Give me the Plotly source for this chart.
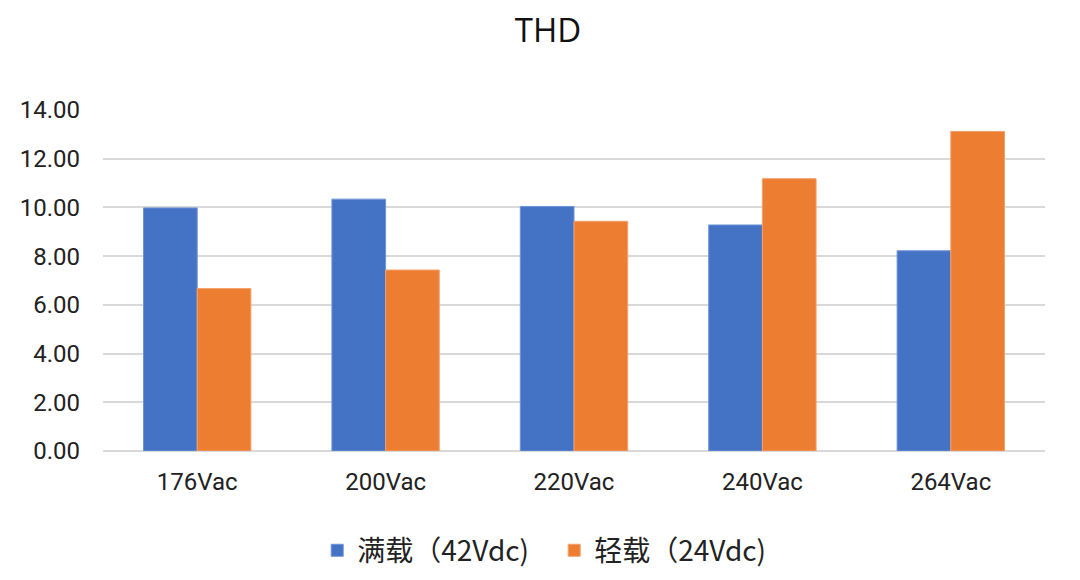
import plotly.graph_objects as go

categories = ["176Vac", "200Vac", "220Vac", "240Vac", "264Vac"]
full_load = [9.98, 10.34, 10.04, 9.28, 8.22]
light_load = [6.67, 7.43, 9.43, 11.18, 13.12]
series_names = ["满载（42Vdc)", "轻载（24Vdc)"]
y_ticks = [0, 2, 4, 6, 8, 10, 12, 14]
y_tick_text = ["0.00", "2.00", "4.00", "6.00", "8.00", "10.00", "12.00", "14.00"]

fig = go.Figure()
fig.add_trace(go.Bar(x=categories, y=full_load, name=series_names[0],
                     marker=dict(color="#4472C4", line=dict(color="#6F93D8", width=1))))
fig.add_trace(go.Bar(x=categories, y=light_load, name=series_names[1],
                     marker=dict(color="#ED7D31", line=dict(color="#F3A26E", width=1))))

fig.update_layout(
    width=1080, height=580,
    paper_bgcolor="white", plot_bgcolor="white",
    margin=dict(l=92, r=43, t=102, b=136),
    barmode="group", bargap=0.43, bargroupgap=0,
    title=dict(text="THD", x=0.5, xanchor="center", y=0.962, yanchor="middle",
               font=dict(family="Open Sans, Noto Sans CJK SC", size=33, color="#111111")),
    font=dict(family="Roboto, Noto Sans CJK SC", size=23, color="#222222"),
    xaxis=dict(showgrid=False, showline=False, ticks="", ticklabelstandoff=14,
               tickfont=dict(size=24, color="#222222")),
    yaxis=dict(range=[0, 14], tickvals=y_ticks, ticktext=y_tick_text,
               showgrid=True, gridcolor="#D9D9D9", gridwidth=1.5,
               zeroline=True, zerolinecolor="#D9D9D9", zerolinewidth=1.5,
               showline=False, ticks="", ticklabelstandoff=22,
               tickfont=dict(size=24, color="#222222")),
    legend=dict(orientation="h", x=0.479, xanchor="center", y=-0.292, yanchor="middle",
                font=dict(family="Noto Sans CJK SC", size=28, color="#222222"),
                itemwidth=30, traceorder="normal",
                entrywidth=192, entrywidthmode="pixels"),
)

fig.write_html("out.html")
